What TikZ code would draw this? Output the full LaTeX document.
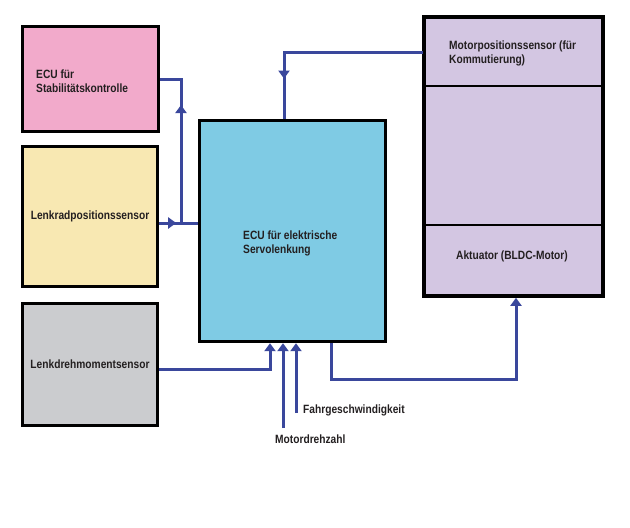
\documentclass[tikz,border=0pt]{standalone}
\usepackage{fontspec}
\setmainfont{Liberation Sans}[FakeStretch=0.85]
\usetikzlibrary{arrows.meta,decorations.markings,fit}
\definecolor{cpink}{HTML}{F2AACB}
\definecolor{cyellow}{HTML}{F8E8B2}
\definecolor{cgray}{HTML}{CBCCCF}
\definecolor{cblue}{HTML}{7FCBE4}
\definecolor{cpurple}{HTML}{D3C6E2}
\definecolor{cline}{HTML}{3A479C}
\definecolor{ctext}{HTML}{231F20}
\begin{document}
\begin{tikzpicture}[x=1pt,y=-1pt,
  box/.style={draw=black, line width=3.4pt, rectangle, inner sep=0pt, text=ctext,
    font=\fontsize{12}{14}\selectfont\bfseries},
  sect/.style={draw=black, line width=2.2pt, rectangle, inner sep=0pt, fill=cpurple,
    minimum width=178pt},
  txt/.style={text=ctext, inner sep=0pt, font=\fontsize{12}{14}\selectfont\bfseries},
  conn/.style={draw=cline, line width=3pt},
  tip/.style={-{Triangle[width=11pt,length=8pt]}},
  midtip/.style={postaction={decorate,decoration={markings,
    mark=at position #1 with {\arrow[cline]{Triangle[width=11pt,length=8pt]}}}}}
]
\useasboundingbox (0,0) rectangle (630,528);
% left boxes
\node[box, fill=cpink, minimum width=136pt, minimum height=105pt] (esp) at (90.5,79) {};
\node[txt, anchor=west, align=left] (esptxt) at (36,81) {ECU für\\Stabilitätskontrolle};
\node[box, fill=cyellow, minimum width=135pt, minimum height=140pt] (lrs) at (90,216.5) {Lenkradpositionssensor};
\node[box, fill=cgray, minimum width=135pt, minimum height=122pt] (lds) at (90,364.5) {Lenkdrehmomentsensor};
% central ECU
\node[box, fill=cblue, minimum width=186pt, minimum height=221pt] (ecu) at (292.5,231) {};
\node[txt, anchor=west, align=left] (ecutxt) at (243,243) {ECU für elektrische\\Servolenkung};
% motor block
\node[sect, minimum height=68pt] (mps) at (513.5,52) {};
\node[sect, minimum height=139pt] (mid) at (513.5,155.5) {};
\node[sect, minimum height=70pt] (akt) at (513.5,260) {};
\node[draw=black, line width=3.4pt, inner sep=0pt, fit=(mps)(mid)(akt)] (mc) {};
\node[txt, anchor=west, align=left] (mpstxt) at (449,53) {Motorpositionssensor (für\\Kommutierung)};
\node[txt] (akttxt) at (512,256) {Aktuator (BLDC-Motor)};
% labels
\node[txt, anchor=north west] (md) at (275,435) {Motordrehzahl};
\node[txt, anchor=west] (fg) at (303,410) {Fahrgeschwindigkeit};
% coordinates
\coordinate (xa) at (284,0);
\coordinate (j1) at (181,223);
\coordinate (g1) at (270,369);
\coordinate (m1) at (283,428);
\coordinate (f1) at (296,413);
\coordinate (o1) at (331,379);
\coordinate (o2) at (516,379);
% connectors
\draw[conn, midtip=166pt] (mps.west) -- (xa |- mps.west) -- (xa |- ecu.north);
\draw[conn, midtip=118pt] (j1) -- (j1 |- esp.east) -- (esp.east);
\draw[conn, midtip=17pt] (lrs.east |- j1) -- (ecu.west |- j1);
\draw[conn, tip] (lds.east |- g1) -- (g1) -- (g1 |- ecu.south);
\draw[conn, tip] (m1) -- (m1 |- ecu.south);
\draw[conn, tip] (f1) -- (f1 |- ecu.south);
\draw[conn, tip] (o1 |- ecu.south) -- (o1) -- (o2) -- (o2 |- mc.south);
\end{tikzpicture}
\end{document}
